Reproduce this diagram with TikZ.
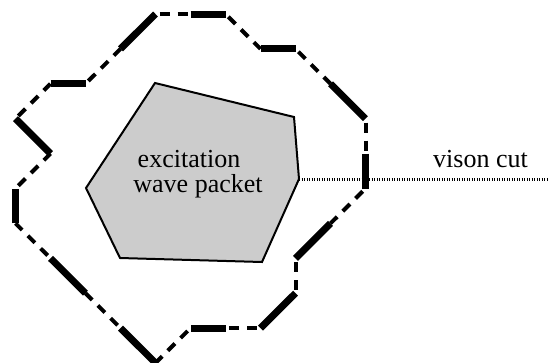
\documentclass[tikz,border=0pt]{standalone}
\usepackage{fontspec}
\setmainfont{Liberation Serif}
\begin{document}
\begin{tikzpicture}[x=1pt,y=-1pt,
  thinlink/.style={line width=4pt, dash pattern=on 10pt off 8pt, dash phase=14pt},
  thicklink/.style={line width=7pt},
  packet/.style={draw=black, line width=2pt, fill=gray!40, line join=miter},
  cutline/.style={line width=3pt, dash pattern=on 1.2pt off 1.3pt},
  lbl/.style={font=\fontsize{26}{30}\selectfont, inner sep=0pt, anchor=base}]
\useasboundingbox (0,0) rectangle (549,362);
% excitation wave packet
\coordinate (p1) at (155,83);
\coordinate (p2) at (294,117);
\coordinate (pR) at (299,179);
\coordinate (p4) at (262,262);
\coordinate (p5) at (120,258);
\coordinate (p6) at (86,188);
\draw[packet] (p1) -- (p2) -- (pR) -- (p4) -- (p5) -- (p6) -- cycle;
\node[lbl] (t1) at (189,167) {excitation};
\node[lbl] (t2) at (198,192) {wave packet};
% vison cut
\coordinate (cutEnd) at (549,179);
\draw[cutline] (pR) -- (cutEnd);
\node[lbl] (t3) at (480.5,167) {vison cut};
% lattice loop
\begin{scope}[shift={(15.5,14)}, x=35pt, y=-34.9pt]
\coordinate (a0) at (4,0);
\coordinate (a1) at (5,0);
\coordinate (a2) at (6,0);
\coordinate (a3) at (7,1);
\coordinate (a4) at (8,1);
\coordinate (a5) at (9,2);
\coordinate (a6) at (10,3);
\coordinate (a7) at (10,4);
\coordinate (a8) at (10,5);
\coordinate (a9) at (9,6);
\coordinate (a10) at (8,7);
\coordinate (a11) at (8,8);
\coordinate (a12) at (7,9);
\coordinate (a13) at (6,9);
\coordinate (a14) at (5,9);
\coordinate (a15) at (4,10);
\coordinate (a16) at (3,9);
\coordinate (a17) at (2,8);
\coordinate (a18) at (1,7);
\coordinate (a19) at (0,6);
\coordinate (a20) at (0,5);
\coordinate (a21) at (1,4);
\coordinate (a22) at (0,3);
\coordinate (a23) at (1,2);
\coordinate (a24) at (2,2);
\coordinate (a25) at (3,1);
\end{scope}
\foreach \a/\b in {a0/a1,a2/a3,a4/a5,a6/a7,a8/a9,a10/a11,a12/a13,a14/a15,a16/a17,a18/a19,a20/a21,a22/a23,a24/a25}
  \draw[thinlink] (\a) -- (\b);
\foreach \a/\b in {a1/a2,a3/a4,a5/a6,a7/a8,a9/a10,a11/a12,a13/a14,a15/a16,a17/a18,a19/a20,a21/a22,a23/a24,a25/a0}
  \draw[thicklink] (\a) -- (\b);
\end{tikzpicture}
\end{document}
